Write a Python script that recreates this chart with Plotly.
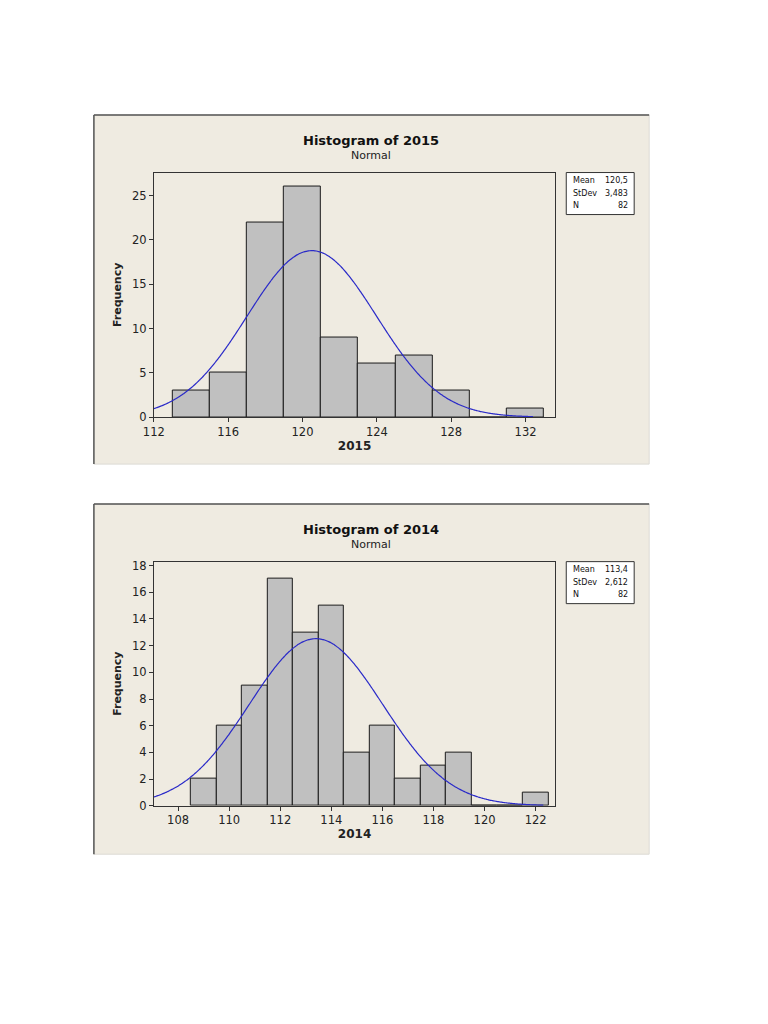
import numpy as np
import plotly.graph_objects as go

W, H = 768, 1024

# data
bins_2015 = [114, 116, 118, 120, 122, 124, 126, 128, 130, 132]
counts_2015 = [3, 5, 22, 26, 9, 6, 7, 3, 0, 1]
ticks_2015 = [112, 116, 120, 124, 128, 132]
stats_2015 = {"Mean": "120,5", "StDev": "3,483", "N": "82"}
mean_2015, sd_2015, n_2015, binw_2015 = 120.5, 3.483, 82, 2

bins_2014 = [109, 110, 111, 112, 113, 114, 115, 116, 117, 118, 119, 120, 121, 122]
counts_2014 = [2, 6, 9, 17, 13, 15, 4, 6, 2, 3, 4, 0, 0, 1]
ticks_2014 = [108, 110, 112, 114, 116, 118, 120, 122]
stats_2014 = {"Mean": "113,4", "StDev": "2,612", "N": "82"}
mean_2014, sd_2014, n_2014, binw_2014 = 113.4, 2.612, 82, 1


# target pixel -> paper fraction, corrected for the offset seen in the screenshot
def px(x):
    return ((x - 18) / 0.987) / W


def py(y):
    return 1 - ((y - 10) / 0.99) / H


def normal_curve(x0, x1, mean, sd, n, bw):
    xs = np.linspace(x0, x1, 300)
    ys = n * bw * np.exp(-0.5 * ((xs - mean) / sd) ** 2) / (sd * np.sqrt(2 * np.pi))
    return xs, ys


fig = go.Figure()
font = "DejaVu Sans"

panels = [
    # bins, counts, ticks, stats, mean, sd, n, bw, xrange, yrange, curve end, year,
    # panel top, panel bottom, plot top, plot bottom, yticks
    (bins_2015, counts_2015, ticks_2015, stats_2015, mean_2015, sd_2015, n_2015, binw_2015,
     [112, 133.6], [0, 27.6], 132.4, "2015", 114, 463, 171.5, 416, [0, 5, 10, 15, 20, 25]),
    (bins_2014, counts_2014, ticks_2014, stats_2014, mean_2014, sd_2014, n_2014, binw_2014,
     [107.05, 122.77], [0, 18.3], 122.3, "2014", 503, 853, 560.5, 804.5, [0, 2, 4, 6, 8, 10, 12, 14, 16, 18]),
]

shapes = []
annotations = []
layout_axes = {}


def note(text, x, y, size, xanchor="center", bold=False, color="#222"):
    if bold:
        text = "<b>" + text + "</b>"
    annotations.append(dict(text=text, x=px(x), y=py(y), xref="paper", yref="paper",
                            xanchor=xanchor, yanchor="middle", showarrow=False,
                            font=dict(family=font, size=size, color=color)))


for i, (bins, counts, ticks, stats, mean, sd, n, bw, xr, yr, xend, year,
        ptop, pbot, atop, abot, yticks) in enumerate(panels):
    k = "" if i == 0 else str(i + 1)
    fig.add_trace(go.Bar(
        x=bins, y=counts, width=bw,
        marker=dict(color="#c0c0c0", line=dict(color="#1a1a1a", width=1)),
        xaxis="x" + k, yaxis="y" + k, showlegend=False,
    ))
    cx, cy = normal_curve(xr[0], xend, mean, sd, n, bw)
    fig.add_trace(go.Scatter(
        x=cx, y=cy, mode="lines",
        line=dict(color="#2a2ac8", width=1.2, shape="spline", simplify=False),
        xaxis="x" + k, yaxis="y" + k, showlegend=False,
    ))

    layout_axes["xaxis" + k] = dict(
        domain=[px(153), px(555)], range=xr, anchor="y" + k,
        tickvals=ticks, ticks="outside", ticklen=4, tickcolor="#333",
        showline=True, linecolor="#333", linewidth=1, mirror=True,
        showgrid=False, zeroline=False,
        tickfont=dict(family=font, size=11.5, color="#222"),
        title=dict(text="<b>" + year + "</b>", standoff=2,
                   font=dict(family=font, size=12, color="#222")),
    )
    layout_axes["yaxis" + k] = dict(
        domain=[py(abot), py(atop)], range=yr, anchor="x" + k,
        tickvals=yticks, ticks="outside", ticklen=4, tickcolor="#333",
        showline=True, linecolor="#333", linewidth=1, mirror=True,
        showgrid=False, zeroline=False,
        tickfont=dict(family=font, size=11.5, color="#222"),
        title=dict(text="<b>Frequency</b>", standoff=8,
                   font=dict(family=font, size=11, color="#222")),
    )

    # beige panel with dark top/left edge
    shapes.append(dict(type="rect", xref="paper", yref="paper", layer="below",
                       x0=px(93), x1=px(649), y0=py(pbot), y1=py(ptop),
                       fillcolor="#efebe1", line=dict(width=1, color="#dcdad4")))
    shapes.append(dict(type="line", xref="paper", yref="paper",
                       x0=px(93), x1=px(649), y0=py(ptop), y1=py(ptop),
                       line=dict(width=1.5, color="#555")))
    shapes.append(dict(type="line", xref="paper", yref="paper",
                       x0=px(93), x1=px(93), y0=py(pbot), y1=py(ptop),
                       line=dict(width=1.5, color="#555")))
    # stats box
    shapes.append(dict(type="rect", xref="paper", yref="paper",
                       x0=px(566), x1=px(634), y0=py(atop + 42), y1=py(atop),
                       fillcolor="white", line=dict(width=1, color="#333")))

    note("Histogram of " + year, 370, ptop + 25, 13, bold=True, color="#111")
    note("Normal", 370, ptop + 40, 11)
    for j, (lab, val) in enumerate(stats.items()):
        yy = atop + 8 + j * 12.5
        note(lab, 571, yy, 8, xanchor="left", color="#111")
        note(val, 630, yy, 8, xanchor="right", color="#111")

fig.update_layout(
    width=W, height=H, margin=dict(l=0, r=0, t=0, b=0),
    paper_bgcolor="white", plot_bgcolor="white",
    bargap=0, shapes=shapes, annotations=annotations,
    **layout_axes,
)

fig.write_html("out.html")
